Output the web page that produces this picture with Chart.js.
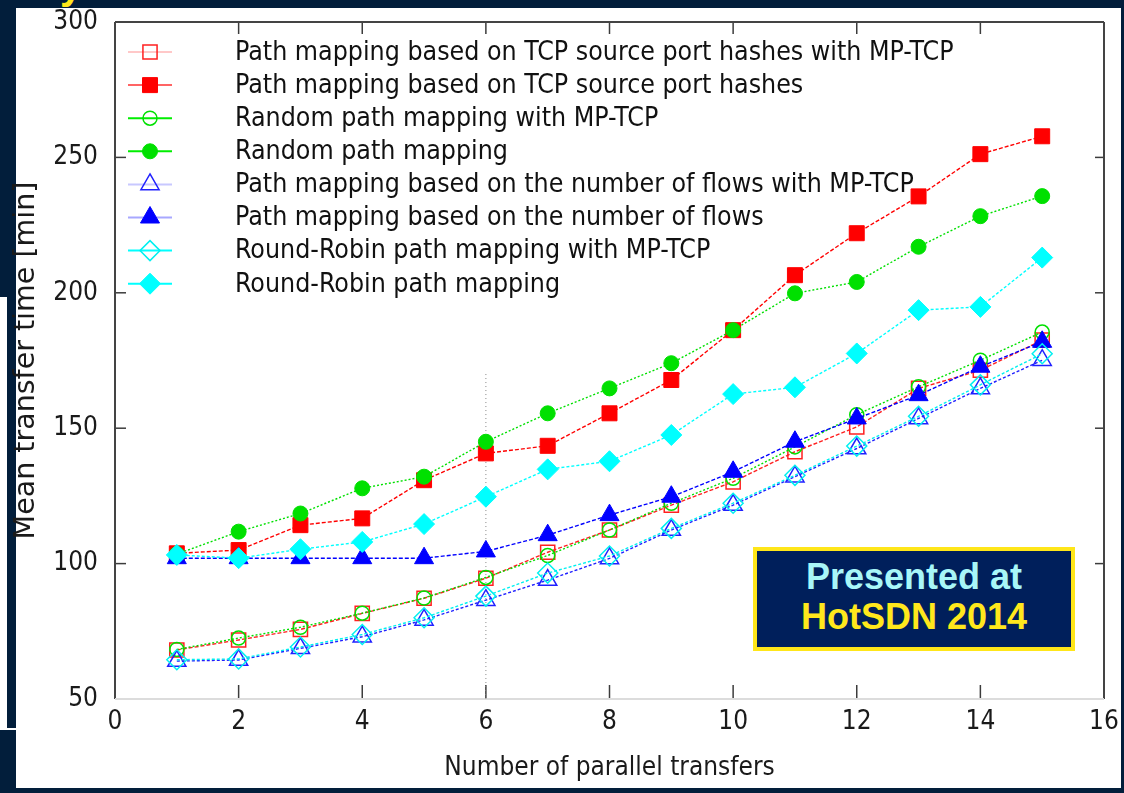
<!DOCTYPE html>
<html>
<head>
<meta charset="utf-8">
<script src="https://cdn.jsdelivr.net/npm/chart.js@4.4.0/dist/chart.umd.min.js"></script>
<style>
  html, body { margin:0; padding:0; }
  body { width:1124px; height:793px; background:#021e3b; position:relative; overflow:hidden; }
  #titleBit { position:absolute; left:60px; top:-35px; font:bold 40px "Liberation Sans", Arial, sans-serif; line-height:40px; color:#ffe81a; }
  #panel { position:absolute; left:16px; top:8px; width:1105px; height:780px; background:#fff; }
  #strip { position:absolute; left:0; top:297px; width:7px; height:433px; background:#fff; }
  #stripLine { position:absolute; left:7px; top:728px; width:9px; height:2px; background:#fff; }
  #wrap { position:absolute; left:0; top:0; width:1124px; height:793px; }
  #badge { position:absolute; left:753px; top:547px; width:322px; height:104px; box-sizing:border-box;
           border:4px solid #ffe619; background:#001f5b; text-align:center; padding-top:6px;
           font:bold 36px "Liberation Sans", Arial, sans-serif; line-height:40px; }
  #badge .l1 { color:#a8f6f8; }
  #badge .l2 { color:#ffe81c; }
</style>
</head>
<body>
<div id="titleBit">y</div>
<div id="panel"></div>
<div id="strip"></div>
<div id="stripLine"></div>
<div id="wrap"><canvas id="chart" width="1124" height="793"></canvas></div>
<div id="badge"><div class="l1">Presented at</div><div class="l2">HotSDN 2014</div></div>
<script>
// number of parallel transfers (x)
const transfers = [1, 2, 3, 4, 5, 6, 7, 8, 9, 10, 11, 12, 13, 14, 15];

// mean transfer time [min]
const hashMptcp  = [68.1, 71.8, 75.7, 81.6, 87.2, 94.6, 104.2, 112.4, 121.6, 130.2, 141.3, 150.5, 164.7, 171.4, 182.5];
const hashTcp    = [103.8, 105.0, 114.2, 116.7, 130.8, 140.7, 143.5, 155.5, 167.8, 186.2, 206.5, 222.0, 235.6, 251.2, 257.8];
const randMptcp  = [68.3, 72.5, 76.5, 81.7, 87.3, 94.9, 103.0, 112.4, 122.3, 131.5, 143.1, 155.0, 165.3, 175.1, 185.5];
const randTcp    = [103.5, 111.8, 118.5, 127.8, 132.1, 145.0, 155.5, 164.7, 174.0, 186.2, 199.8, 204.0, 217.0, 228.3, 235.7];
const flowsMptcp = [64.0, 64.4, 68.7, 73.0, 79.2, 86.5, 93.9, 101.9, 112.4, 121.6, 132.1, 142.5, 153.6, 164.7, 175.1];
const flowsTcp   = [102.0, 102.0, 102.0, 102.0, 102.0, 104.5, 110.5, 117.9, 124.7, 133.9, 145.0, 153.6, 162.2, 172.7, 181.9];
const rrMptcp    = [64.5, 64.8, 69.2, 73.8, 80.0, 88.0, 96.5, 102.8, 113.0, 122.3, 132.6, 143.4, 154.4, 166.0, 177.5];
const rrTcp      = [103.2, 102.0, 105.3, 108.0, 114.6, 124.7, 134.8, 137.8, 147.5, 162.6, 165.1, 177.6, 193.6, 194.8, 213.0];

const seriesNames = [
  "Path mapping based on TCP source port hashes with MP-TCP",
  "Path mapping based on TCP source port hashes",
  "Random path mapping with MP-TCP",
  "Random path mapping",
  "Path mapping based on the number of flows with MP-TCP",
  "Path mapping based on the number of flows",
  "Round-Robin path mapping with MP-TCP",
  "Round-Robin path mapping"
];
const seriesValues = [hashMptcp, hashTcp, randMptcp, randTcp, flowsMptcp, flowsTcp, rrMptcp, rrTcp];

// dotted guide at x = 6
const guideX = [6, 6];
const guideY = [170, 50];

const xMin = 0, xMax = 16, xStep = 2;
const yMin = 50, yMax = 300, yStep = 50;

/* styles */
const STYLES = [
  {color:"#ff2020", legend:"#ffc8c8", shape:"rect",     open:true,  r:10,   dash:[4,2]},
  {color:"#ff0000", legend:"#ff6464", shape:"rect",     open:false, r:10.6, dash:[4,2]},
  {color:"#00e000", legend:"#00ee00", shape:"circle",   open:true,  r:7,    dash:[2,2]},
  {color:"#00e000", legend:"#00ee00", shape:"circle",   open:false, r:7.5,  dash:[2,2]},
  {color:"#2020ff", legend:"#c8c8ff", shape:"triangle", open:true,  r:10.5, dash:[3,2]},
  {color:"#0000ff", legend:"#a8a8ff", shape:"triangle", open:false, r:11,   dash:[4,2]},
  {color:"#00f0f0", legend:"#00ffff", shape:"rectRot",  open:true,  r:10,   dash:[3,2]},
  {color:"#00ffff", legend:"#00ffff", shape:"rectRot",  open:false, r:10.5, dash:[3,2]}
];

const FONT = '"DejaVu Sans Condensed", "DejaVu Sans", sans-serif';
Chart.defaults.font.family = FONT;
Chart.defaults.color = "#1a1a1a";

const datasets = seriesValues.map((vals, i) => {
  const st = STYLES[i];
  return {
    label: seriesNames[i],
    data: transfers.map((t, k) => ({x: t, y: vals[k]})),
    borderColor: st.color,
    borderWidth: 1.4,
    borderDash: st.dash,
    pointStyle: st.shape,
    pointRadius: st.r,
    pointBorderColor: st.color,
    pointBackgroundColor: st.open ? "rgba(0,0,0,0)" : st.color,
    pointBorderWidth: st.open ? 1.5 : 1,
    tension: 0,
    order: -i,
    legendColor: st.legend
  };
});
datasets.push({
  label: "guide",
  data: guideX.map((x, k) => ({x, y: guideY[k]})),
  borderColor: "#8a8a8a",
  borderWidth: 1,
  borderDash: [1, 3],
  pointRadius: 0,
  order: 100
});

/* frame with inward ticks on all sides */
const framePlugin = {
  id: "frame",
  beforeDatasetsDraw(chart) {
    const {ctx, chartArea: a, scales: {x, y}} = chart;
    const seg = (x1, y1, x2, y2) => { ctx.beginPath(); ctx.moveTo(x1, y1); ctx.lineTo(x2, y2); ctx.stroke(); };
    ctx.save();
    ctx.strokeStyle = "#3c3c3c";
    ctx.lineWidth = 1.5;
    x.ticks.forEach(t => {
      const px = x.getPixelForValue(t.value);
      seg(px, a.bottom, px, a.bottom - 14);
      seg(px, a.top, px, a.top + 12);
    });
    y.ticks.forEach(t => {
      const py = y.getPixelForValue(t.value);
      seg(a.left, py, a.left + 11, py);
      seg(a.right, py, a.right - 9, py);
    });
    ctx.lineWidth = 2;
    ctx.strokeStyle = "#444";
    seg(a.left, a.bottom, a.left, a.top);
    seg(a.left, a.top, a.right, a.top);
    seg(a.right, a.top, a.right, a.bottom);
    ctx.strokeStyle = "#dcdcdc";
    seg(a.left, a.bottom, a.right, a.bottom);
    ctx.restore();
  }
};

/* key inside the plot: line sample + marker + text */
const keyPlugin = {
  id: "insideKey",
  afterDatasetsDraw(chart) {
    const {ctx, chartArea: a} = chart;
    ctx.save();
    ctx.font = "26.5px " + FONT;
    ctx.textBaseline = "middle";
    ctx.textAlign = "left";
    chart.data.datasets.forEach((ds, i) => {
      if (!ds.legendColor) return;
      const yy = a.top + 30 + i * 33.1;
      const x0 = a.left + 13;
      ctx.setLineDash([]);
      ctx.strokeStyle = ds.legendColor;
      ctx.lineWidth = 2;
      ctx.beginPath(); ctx.moveTo(x0, yy); ctx.lineTo(x0 + 44, yy); ctx.stroke();
      ctx.fillStyle = ds.pointBackgroundColor;
      ctx.strokeStyle = ds.pointBorderColor;
      ctx.lineWidth = ds.pointBorderWidth;
      Chart.helpers.drawPoint(ctx, {pointStyle: ds.pointStyle, radius: ds.pointRadius, borderWidth: ds.pointBorderWidth, rotation: 0}, x0 + 22, yy);
      ctx.fillStyle = "#111";
      ctx.fillText(ds.label, a.left + 120, yy + 1);
    });
    ctx.restore();
  }
};

new Chart(document.getElementById("chart"), {
  type: "line",
  data: {datasets},
  options: {
    responsive: false,
    animation: false,
    devicePixelRatio: 1,
    layout: {padding: {top: 22, right: 20, bottom: 0, left: 0}},
    plugins: {legend: {display: false}, tooltip: {enabled: false}},
    scales: {
      x: {
        type: "linear", min: xMin, max: xMax,
        grid: {display: false, drawTicks: false},
        border: {display: false},
        ticks: {stepSize: xStep, padding: 8, font: {size: 26}, color: "#1a1a1a"},
        title: {display: true, text: "Number of parallel transfers", font: {size: 26}, color: "#1a1a1a", padding: {top: 0, bottom: 9}},
        afterFit(s) { s.height = 94; s.paddingLeft = 0; s.paddingRight = 0; }
      },
      y: {
        type: "linear", min: yMin, max: yMax,
        grid: {display: false, drawTicks: false},
        border: {display: false},
        ticks: {stepSize: yStep, padding: 17, font: {size: 26}, color: "#1a1a1a"},
        title: {display: true, text: "Mean transfer time [min]", font: {size: 28.5, family: '"DejaVu Sans", sans-serif'}, color: "#1a1a1a", padding: {top: 9, bottom: 0}},
        afterFit(s) { s.width = 115; s.paddingTop = 0; s.paddingBottom = 0; }
      }
    }
  },
  plugins: [framePlugin, keyPlugin]
});
</script>
</body>
</html>
